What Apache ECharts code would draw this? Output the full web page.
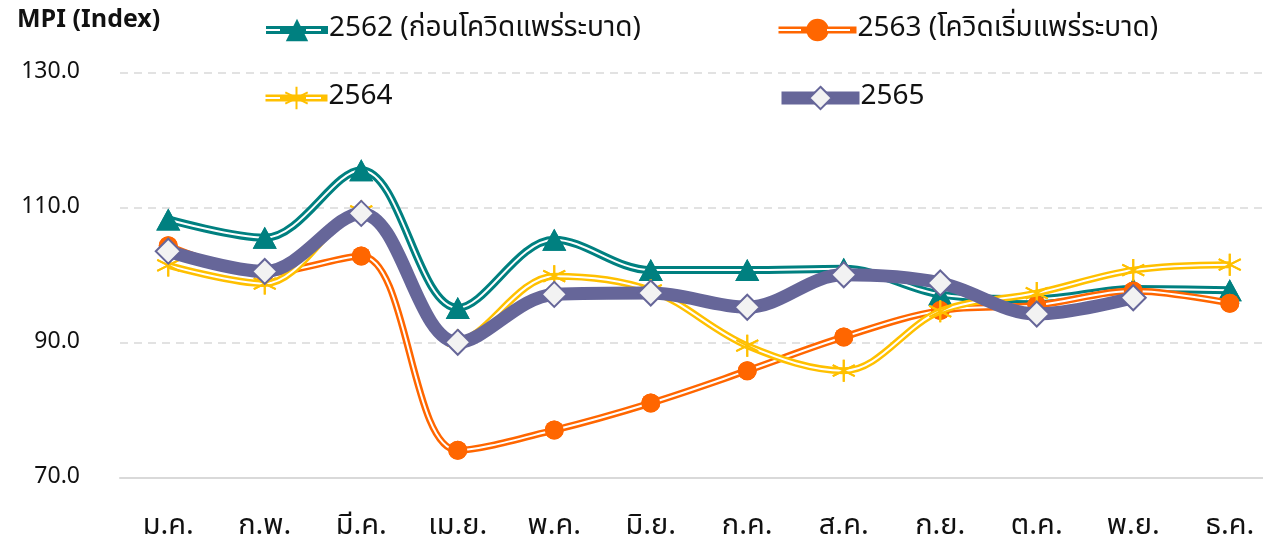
<!DOCTYPE html>
<html>
<head>
    <meta charset="utf-8">
    <title>MPI Index</title>
    <script src="https://cdn.jsdelivr.net/npm/echarts@6/dist/echarts.min.js"></script>
    <style>
        html, body { margin: 0; padding: 0; background: #fff; }
    </style>
</head>
<body>
    <div id="main" style="width: 1263px;height:546px;"></div>
    <script type="text/javascript">
        // ข้อมูล
        var months = ['ม.ค.', 'ก.พ.', 'มี.ค.', 'เม.ย.', 'พ.ค.', 'มิ.ย.', 'ก.ค.', 'ส.ค.', 'ก.ย.', 'ต.ค.', 'พ.ย.', 'ธ.ค.'];
        var yTicks = [70, 90, 110, 130];
        var names = ['2562 (ก่อนโควิดแพร่ระบาด)', '2563 (โควิดเริ่มแพร่ระบาด)', '2564', '2565'];
        var y2562 = [108.3, 105.6, 115.6, 95.2, 105.3, 100.8, 100.8, 101.0, 97.2, 96.5, 98.0, 97.8];
        var y2563 = [104.4, 100.4, 102.9, 74.1, 77.1, 81.1, 85.9, 90.9, 94.8, 95.6, 97.7, 95.9];
        var y2564 = [101.5, 98.8, 109.5, 90.4, 99.9, 97.8, 89.6, 85.9, 94.7, 97.4, 100.8, 101.6];
        var y2565 = [103.6, 100.6, 109.2, 90.1, 97.2, 97.4, 95.3, 100.1, 98.9, 94.3, 96.7];

        var font = "'Noto Sans Thai', 'Noto Sans', 'DejaVu Sans', sans-serif";
        var asterisk = 'path://M0,-10L0,10M-8.7,-5L8.7,5M-8.7,5L8.7,-5';

        // เส้นคู่ (สี + เส้นขาวตรงกลาง) แบบ Excel
        function doubleLine(name, data, color, w, symbol, size, itemStyle, z) {
            return [{
                name: name, type: 'line', data: data, smooth: 0.35, z: z,
                symbol: symbol, symbolSize: size,
                lineStyle: { color: color, width: w },
                itemStyle: itemStyle
            }, {
                name: name, type: 'line', data: data, smooth: 0.35, z: z + 1,
                showSymbol: false, silent: true,
                lineStyle: { color: '#fff', width: 2 }
            }, {
                name: name, type: 'line', data: data, smooth: 0.35, z: z + 2,
                symbol: symbol, symbolSize: size, silent: true,
                lineStyle: { opacity: 0 },
                itemStyle: itemStyle
            }];
        }

        var series = [].concat(
            doubleLine(names[0], y2562, '#008080', 8, 'triangle', [24, 22], { color: '#008080' }, 2),
            doubleLine(names[1], y2563, '#FF6600', 7, 'circle', 19, { color: '#FF6600' }, 5),
            doubleLine(names[2], y2564, '#FFC000', 7, asterisk, 22,
                { color: 'rgba(0,0,0,0)', borderColor: '#FFC000', borderWidth: 2 }, 8),
            [{
                name: names[3], type: 'line', data: y2565, smooth: 0.35, z: 11,
                symbol: 'diamond', symbolSize: 25,
                lineStyle: { color: '#666699', width: 13 },
                itemStyle: { color: '#F2F2F2', borderColor: '#666699', borderWidth: 2 }
            }]
        );

        // ตำแหน่ง legend (2 แถว x 2 คอลัมน์)
        var legendPos = [[262, 16], [775, 16], [262, 84], [775, 84]];
        var legendW = [8, 7, 7, 13];
        var legendIconW = [62, 78, 62, 78];
        var legends = names.map(function (n, i) {
            return {
                data: [n], left: legendPos[i][0], top: legendPos[i][1],
                padding: 0, itemWidth: legendIconW[i], itemHeight: 28, itemGap: 0,
                lineStyle: { width: legendW[i] },
                textStyle: { fontSize: 28, lineHeight: 28, color: '#111', fontFamily: font, padding: [0, 0, 0, -4] }
            };
        });

        // เส้นขาวกลาง icon ของ legend (เส้นคู่)
        var legendInner = [];
        [0, 1, 2].forEach(function (i) {
            var x0 = legendPos[i][0], w = legendIconW[i], y = legendPos[i][1] + 14, c = x0 + w / 2;
            [[x0 + 3, c - 13], [c + 13, x0 + w - 3]].forEach(function (seg) {
                legendInner.push({
                    type: 'line', z: 100, silent: true,
                    shape: { x1: seg[0], y1: y, x2: seg[1], y2: y },
                    style: { stroke: '#fff', lineWidth: 2 }
                });
            });
        });

        var myChart = echarts.init(document.getElementById('main'));
        var option = {
            animation: false,
            textStyle: { fontFamily: font },
            title: {
                text: 'MPI (Index)', left: 12, top: 4,
                textStyle: { fontSize: 25, fontWeight: 'bold', color: '#111', fontFamily: font }
            },
            legend: legends,
            graphic: legendInner,
            grid: { left: 120, top: 73, width: 1158, height: 405, containLabel: false, outerBoundsMode: 'none' },
            xAxis: {
                type: 'category', data: months, boundaryGap: true,
                axisLine: { lineStyle: { color: '#d9d9d9', width: 2 } },
                axisTick: { show: false },
                axisLabel: { fontSize: 29, color: '#111', margin: 36, interval: 0 }
            },
            yAxis: {
                type: 'value', min: yTicks[0], max: yTicks[yTicks.length - 1], interval: 20,
                axisLine: { show: false }, axisTick: { show: false },
                axisLabel: {
                    fontSize: 23, color: '#111', margin: 40,
                    formatter: function (v) { return v.toFixed(1); }
                },
                splitLine: { lineStyle: { color: '#d9d9d9', width: 1.5, type: [8, 6] } }
            },
            series: series
        };
        myChart.setOption(option);
    </script>
</body>
</html>
